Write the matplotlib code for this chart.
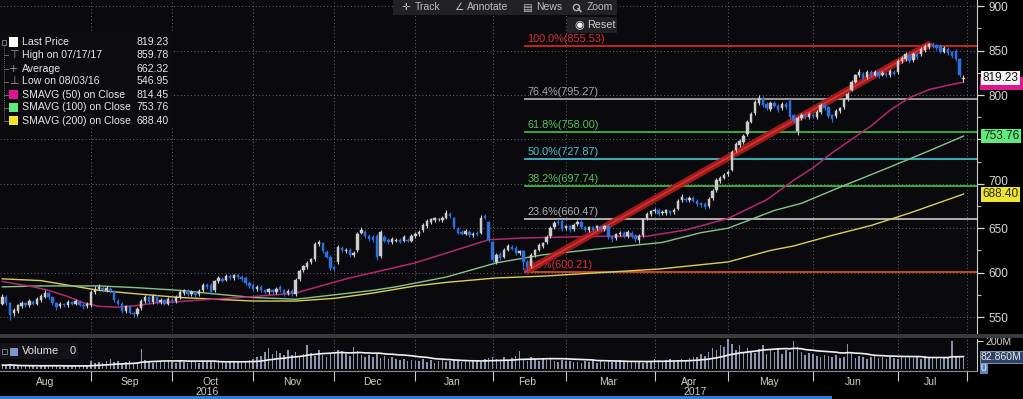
import matplotlib
matplotlib.use('Agg')
import matplotlib.pyplot as plt
import matplotlib.transforms as mtransforms
from matplotlib.patches import Rectangle
import numpy as np
import pandas as pd

W, H = 1023, 399
plt.rcParams['font.family'] = ['Liberation Sans', 'DejaVu Sans']

# trading days (NYSE holidays removed)
holidays = ['2016-09-05', '2016-11-24', '2016-12-26', '2017-01-02', '2017-01-16',
            '2017-02-20', '2017-04-14', '2017-05-29', '2017-07-04']
dates = pd.bdate_range('2016-08-01', '2017-07-27', freq='C', holidays=holidays)

opens = [
    565, 573, 566, 554, 557, 562, 566, 563, 567, 565, 569, 573, 577, 572, 566, 562, 565, 563, 567, 565, 567, 564, 562,
    563, 578, 582, 583, 580, 582, 579, 568, 565, 557, 561, 555, 553, 560, 568, 572, 567, 573, 567, 569, 565,
    569, 568, 572, 577, 579, 576, 577, 576, 580, 586, 586, 580, 590, 593, 592, 596, 594, 597, 595, 594, 588,
    586, 581, 584, 580, 578, 580, 578, 584, 580, 577, 579, 576, 593, 603, 606, 612, 615, 632, 633, 623, 618,
    606, 612, 628, 624, 626, 620, 625, 645, 646, 641, 640, 641, 619, 640, 637, 634, 636, 637, 636, 637, 636,
    641, 643, 648, 652, 657, 659, 660, 659, 662, 666, 662, 649, 646, 644, 646, 642, 645, 645, 664, 657,
    634, 612, 621, 618, 626, 629, 628, 622, 624, 612, 607, 620, 626, 630, 634, 641, 651, 657, 658,
    650, 652, 649, 655, 657, 651, 648, 651, 650, 651, 649, 652, 640, 639, 643, 645, 641, 645, 641, 637, 642, 661, 666,
    669, 671, 667, 667, 669, 668, 672, 682, 683, 682, 684, 681, 678, 677, 675, 684, 693, 703, 707,
    711, 716, 738, 744, 747, 756, 770, 780, 791, 797, 790, 784, 791, 788, 785, 790, 793, 777, 760, 774, 777, 775,
    778, 775, 781, 789, 786, 777, 776, 782, 786, 795, 806, 815, 822, 824, 820, 826, 823, 826, 823, 824, 822, 826,
    826, 838, 840, 845, 839, 846, 846, 851, 854, 857, 856, 855, 849, 852, 848, 850, 840, 818,
]
closes = [
    573, 566, 552, 558, 563, 566, 563, 568, 565, 570, 574, 577, 572, 566, 561, 565, 563, 567, 565, 568, 564, 562, 565,
    578, 582, 584, 580, 583, 579, 569, 565, 557, 562, 555, 553, 559, 568, 573, 567, 574, 567, 569, 565, 570,
    568, 573, 578, 580, 576, 578, 575, 579, 586, 584, 578, 590, 594, 591, 596, 594, 597, 595, 593, 588, 585,
    581, 584, 580, 578, 581, 578, 582, 580, 576, 579, 576, 592, 602, 607, 611, 615, 632, 635, 624, 618, 605,
    604, 629, 625, 626, 620, 622, 644, 648, 641, 638, 637, 618, 646, 636, 634, 638, 637, 635, 640, 636, 641,
    644, 646, 654, 658, 660, 661, 660, 662, 667, 664, 651, 645, 644, 647, 642, 644, 643, 662, 662, 637,
    614, 620, 616, 626, 630, 627, 622, 624, 612, 606, 620, 625, 631, 633, 640, 650, 656, 656, 649,
    652, 648, 654, 657, 651, 648, 651, 648, 652, 649, 652, 640, 638, 643, 645, 641, 646, 641, 638, 641, 660, 666, 669,
    671, 666, 668, 670, 667, 671, 681, 685, 682, 684, 681, 677, 676, 674, 683, 692, 704, 707, 710,
    713, 736, 745, 748, 754, 770, 779, 792, 797, 789, 785, 791, 788, 783, 790, 786, 775, 772, 774, 778, 775, 779,
    776, 781, 789, 785, 776, 773, 782, 785, 795, 801, 815, 822, 826, 819, 826, 822, 826, 821, 825, 822, 827, 824,
    838, 842, 846, 838, 846, 843, 852, 855, 857, 856, 853, 849, 853, 847, 844, 840, 822, 819.23,
]
highs = [
    576, 575, 567, 560, 565, 568, 567, 570, 569, 572, 576, 580, 578, 573, 567, 567, 566, 569, 568, 570, 569, 566, 567,
    580, 585, 587, 585, 585, 584, 580, 570, 567, 564, 563, 557, 561, 570, 575, 574, 576, 575, 571, 570, 572,
    571, 575, 580, 582, 581, 580, 579, 581, 588, 588, 588, 592, 596, 595, 598, 598, 599, 599, 597, 596, 590,
    588, 586, 586, 582, 583, 582, 584, 586, 582, 581, 581, 594, 604, 609, 613, 617, 634, 637, 635, 625, 620,
    608, 631, 630, 628, 628, 624, 646, 651, 648, 643, 642, 643, 648, 642, 639, 640, 639, 639, 642, 639, 643,
    646, 648, 656, 660, 662, 663, 662, 664, 670, 668, 663, 651, 648, 649, 648, 646, 647, 665, 666, 658,
    636, 622, 623, 628, 632, 631, 630, 626, 626, 614, 622, 627, 633, 635, 642, 652, 658, 660, 660,
    654, 654, 656, 659, 659, 653, 653, 653, 654, 653, 654, 654, 642, 645, 647, 647, 648, 647, 643, 643, 662, 668, 671,
    673, 673, 670, 672, 671, 673, 683, 688, 685, 686, 686, 683, 680, 679, 685, 694, 706, 709, 712,
    715, 738, 747, 751, 756, 772, 781, 794, 800, 799, 792, 793, 793, 790, 792, 792, 795, 779, 776, 780, 779, 781,
    780, 783, 791, 791, 788, 779, 784, 787, 797, 803, 817, 824, 829, 826, 828, 828, 828, 828, 827, 826, 829, 828,
    840, 844, 848, 847, 848, 848, 854, 857, 859, 859.78, 858, 857, 855, 854, 850, 852, 842, 823,
]
lows = [
    563, 564, 546.95, 551, 555, 560, 561, 561, 563, 563, 567, 571, 570, 564, 558, 560, 561, 561, 563, 563, 562, 559, 560,
    561, 576, 580, 578, 578, 577, 567, 563, 555, 555, 553, 550, 551, 558, 566, 565, 565, 565, 565, 563, 563,
    566, 566, 570, 575, 574, 574, 573, 574, 578, 582, 576, 578, 588, 589, 590, 592, 592, 593, 591, 586, 583,
    579, 579, 578, 576, 576, 576, 576, 578, 574, 575, 574, 574, 591, 601, 604, 610, 613, 630, 622, 616, 603,
    602, 610, 623, 622, 618, 618, 623, 643, 639, 636, 635, 614, 617, 634, 632, 632, 634, 633, 634, 634, 634,
    639, 641, 646, 650, 655, 657, 658, 657, 660, 662, 649, 643, 642, 642, 640, 640, 641, 643, 660, 635,
    611, 610, 614, 616, 624, 625, 620, 620, 603, 600.21, 605, 618, 624, 628, 632, 639, 649, 654, 647,
    648, 646, 647, 653, 649, 646, 646, 646, 648, 647, 647, 638, 635, 637, 641, 639, 639, 639, 635, 633, 640, 659, 664,
    667, 664, 665, 665, 665, 666, 670, 680, 680, 680, 679, 675, 674, 672, 673, 682, 691, 701, 705,
    709, 714, 736, 742, 745, 754, 768, 778, 789, 787, 783, 782, 786, 781, 783, 784, 773, 768, 755, 772, 773, 773,
    774, 773, 779, 783, 774, 770, 774, 780, 784, 793, 804, 813, 820, 817, 818, 820, 821, 819, 821, 820, 820, 822,
    824, 836, 838, 836, 837, 841, 844, 849, 852, 853, 851, 847, 847, 845, 842, 838, 820, 815,
]
# volume in millions
volumes = [
    30, 28, 35, 25, 22, 20, 24, 26, 22, 19, 25, 28, 30, 22, 20, 18, 24, 26, 21, 23, 25, 28, 32,
    60, 48, 52, 45, 58, 70, 55, 62, 48, 52, 60, 44, 50, 146, 66, 58, 47, 53, 61, 49, 56,
    55, 48, 62, 50, 44, 58, 52, 47, 60, 53, 49, 57, 63, 51, 46, 55, 59, 50, 48, 62, 66,
    70, 85, 96, 120, 150, 110, 130, 115, 98, 140, 105, 125, 92, 108, 172, 118, 95, 135, 102, 88, 112,
    120, 140, 128, 110, 95, 160, 130, 105, 90, 98, 85, 110, 80, 92, 76, 88, 70, 65, 72, 60, 68,
    62, 58, 70, 55, 64, 48, 60, 67, 52, 58, 63, 56, 50, 61, 54, 66, 59, 52, 75, 80,
    90, 72, 68, 85, 60, 78, 95, 130, 66, 58, 88, 70, 62, 75, 68, 82, 60, 55, 64,
    58, 62, 50, 55, 48, 60, 52, 66, 47, 58, 54, 62, 50, 57, 63, 49, 55, 61, 52, 58, 46, 60, 54,
    70, 64, 58, 66, 72, 60, 68, 75, 62, 80, 90, 85, 110, 96, 120, 150, 135, 175, 160,
    215, 180, 140, 175, 125, 150, 130, 118, 145, 170, 108, 135, 125, 150, 112, 140, 120, 200, 160, 120, 98, 115,
    110, 95, 88, 105, 92, 85, 100, 78, 90, 180, 120, 82, 95, 88, 76, 84, 92, 80, 86, 74, 90, 82,
    70, 85, 78, 92, 80, 88, 76, 95, 84, 80, 88, 76, 90, 82, 200, 95, 86, 80,
]

# moving averages (trading-day index, value)
sma50_x = [0, 8, 12, 17, 21, 25, 30, 35, 40, 45, 51, 58, 65, 76, 85, 90, 100, 107, 115, 126, 135, 145, 155,
           167, 177, 188, 198, 205, 210, 215, 220, 225, 230, 235, 240, 245, 249]
sma50_y = [590, 584, 580, 573, 566, 562, 561, 563, 566, 567, 569, 571, 573, 577, 588, 594, 604, 611, 622, 637,
           639, 640, 641, 641, 648, 661, 682, 704, 718, 735, 750, 765, 783, 797, 806, 811, 814.45]
sma100_x = [0, 10, 25, 35, 46, 55, 65, 76, 86, 96, 102, 115, 128, 140, 155, 171, 181, 188, 200, 207, 218,
            230, 240, 249]
sma100_y = [584, 585, 585, 583, 580, 576, 572, 570, 575, 580, 584, 595, 611, 620, 627, 634, 645, 650, 670,
            678, 698, 719, 737, 753.76]
sma200_x = [0, 10, 25, 35, 46, 55, 65, 76, 86, 96, 107, 115, 128, 140, 155, 170, 188, 199, 205, 215, 225,
            235, 249]
sma200_y = [593, 591, 580, 576, 572, 570, 568, 568, 571, 577, 585, 589, 594, 596, 600, 604, 612, 625, 630,
            642, 653, 667, 688.40]

fib_pcts = ['100.0%', '76.4%', '61.8%', '50.0%', '38.2%', '23.6%', '0.0%']
fib_vals = [855.53, 795.27, 758.00, 727.87, 697.74, 660.47, 600.21]
fib_cols = ['#d42424', '#a6a6a6', '#3fb63f', '#3ebcc4', '#3fb63f', '#bdbdbd', '#e0461c']
fib_txt = ['#d93434', '#a8a8a8', '#56c456', '#4cc4d4', '#56c456', '#b0b0b0', '#d93434']
fib_start = 136
trend_x = [135.5, 240.5]
trend_y = [601, 858]

legend_labels = ['Last Price', 'High on 07/17/17', 'Average', 'Low on 08/03/16',
                 'SMAVG (50) on Close', 'SMAVG (100) on Close', 'SMAVG (200) on Close']
legend_values = ['819.23', '859.78', '662.32', '546.95', '814.45', '753.76', '688.40']

BG = '#0a0a0e'
TXT = '#cfcfcf'
UP = '#cdcdcd'
DN = '#2f6fdc'
C50, C100, C200 = '#b3286f', '#86c488', '#d8d05a'


def fx(px):
    return px / W


def fy(py):
    return 1 - py / H


fig = plt.figure(figsize=(W / 100, H / 100), dpi=100, facecolor='black')
ax = fig.add_axes([0, fy(333), fx(977), 333 / H], facecolor=BG)
axv = fig.add_axes([0, fy(371), fx(977), 32 / H], facecolor=BG, sharex=ax)

x = np.arange(len(dates))
o, h, l, c = (np.array(a, dtype=float) for a in (opens, highs, lows, closes))
up = c >= o

# month boundaries
starts = [i for i in range(1, len(dates)) if dates[i].month != dates[i - 1].month]
bounds = starts + [len(dates)]
edges = [0] + bounds
centers = [(a + b - 1) / 2 for a, b in zip(edges[:-1], edges[1:])]
mlabels = [dates[a].strftime('%b') for a in edges[:-1]]

x0, x1 = -0.6, 252.5
for a in (ax, axv):
    a.set_xlim(x0, x1)
    for b in bounds:
        a.axvline(b, color='#6a6a6a', lw=0.7, ls=(0, (1, 2.5)), zorder=0.5)
    for s in ('top', 'left'):
        a.spines[s].set_visible(False)
    a.spines['right'].set_color('#d0d0d0')
    a.spines['bottom'].set_color('#8a8a8a')

# price panel
ax.set_ylim(532, 907)
for v in range(550, 901, 50):
    ax.axhline(v, color='#6a6a6a', lw=0.7, ls=(0, (1, 2.5)), zorder=0.5)

for pct, val, lc, tc in zip(fib_pcts, fib_vals, fib_cols, fib_txt):
    ax.plot([fib_start - 0.5, x1], [val, val], color=lc, lw=1.3, zorder=1)
    ax.text(fib_start, val + 2.2, f'{pct}({val:.2f})', color=tc, fontsize=7.8, va='bottom', ha='left', zorder=1.5)

ax.plot(sma200_x, sma200_y, color=C200, lw=1.0, zorder=2)
ax.plot(sma100_x, sma100_y, color=C100, lw=1.0, zorder=2)
ax.plot(sma50_x, sma50_y, color=C50, lw=1.1, zorder=2)
ax.plot(trend_x, trend_y, color='#b31b1b', lw=5, alpha=0.9, solid_capstyle='butt', zorder=2.5)
ax.plot(trend_x, trend_y, color='#e23a3a', lw=1.2, alpha=0.8, zorder=2.6)

cols = [UP if u else DN for u in up]
ax.vlines(x, l, h, colors=cols, lw=0.8, zorder=3)
ax.bar(x, np.maximum(np.abs(c - o), 0.9), bottom=np.minimum(o, c), width=0.62,
       color=cols, edgecolor=cols, lw=0.3, zorder=4)

ax.yaxis.tick_right()
yt = list(range(550, 901, 50))
ax.set_yticks(yt)
ax.set_yticklabels(['' if v == 750 else str(v) for v in yt])
ax.set_yticks(range(550, 901, 25), minor=True)
ax.tick_params(axis='y', which='major', colors='#d8d8d8', length=5, width=0.9, labelsize=8.5, pad=3)
ax.tick_params(axis='y', which='minor', colors='#bdbdbd', length=3, width=0.8)
ax.tick_params(axis='x', which='both', length=0, labelbottom=False)
ax.spines['bottom'].set_visible(False)
# the 700 label peeks out just above the SMA(200) tag
for lab in ax.get_yticklabels():
    if lab.get_text() == '700':
        lab.set_transform(lab.get_transform() + mtransforms.ScaledTranslation(0, 3 / 100, fig.dpi_scale_trans))

blend = mtransforms.blended_transform_factory(ax.transAxes, ax.transData)


def tag(a, tr, y, txt, fc, tc):
    a.text(1.006, y, txt, transform=tr, ha='left', va='center', fontsize=8.5, color=tc, clip_on=False,
           zorder=10, bbox=dict(boxstyle='square,pad=0.12', fc=fc, ec='none'))


# SMA(50) tag sits mostly hidden under the last-price tag
ax.add_patch(Rectangle((1.003, 806), 0.046, 14, transform=blend, fc='#e0168c', ec='none',
                       clip_on=False, zorder=9))
tag(ax, blend, 819.23, '819.23', '#f4f4f4', '#111111')
tag(ax, blend, 753.76, '753.76', '#63e87c', '#0d2a12')
tag(ax, blend, 688.40, '688.40', '#efe52e', '#2a2600')

# volume panel
vol = np.array(volumes, dtype=float)
vol_ma = pd.Series(vol).rolling(20, min_periods=1).mean()
axv.set_ylim(-12, 215)
axv.bar(x, vol, width=0.4, color='#8d93aa', zorder=2)
axv.plot(x, vol_ma, color='#f0f0f0', lw=1.2, zorder=3)
axv.set_yticks([200])
axv.yaxis.tick_right()
axv.tick_params(axis='y', colors='#d8d8d8', length=4, labelsize=7.5, pad=2)
axv.set_yticklabels(['200M'])
vblend = mtransforms.blended_transform_factory(axv.transAxes, axv.transData)
axv.text(1.004, 88, '82.860M', transform=vblend, ha='left', va='center', fontsize=7.5, color='#e8e8e8',
         clip_on=False, zorder=10, bbox=dict(boxstyle='square,pad=0.12', fc='#2d4466', ec='#8aa6c8', lw=0.6))
axv.text(1.004, 12, '0', transform=vblend, ha='left', va='center', fontsize=7.5, color='#e8e8e8',
         clip_on=False, zorder=9, bbox=dict(boxstyle='square,pad=0.12', fc='#5f86bb', ec='none'))

axv.set_xticks(centers)
axv.set_xticklabels(mlabels)
axv.set_xticks(bounds, minor=True)
axv.tick_params(axis='x', which='major', length=0, colors=TXT, labelsize=7.5, pad=4)
axv.tick_params(axis='x', which='minor', length=7, width=0.8, colors='#cfcfcf')

xblend = mtransforms.blended_transform_factory(axv.transData, fig.transFigure)
for yr in (2016, 2017):
    idx = [i for i, d in enumerate(dates) if d.year == yr]
    lo = max(idx[0] - 0.5, x0)
    hi = min(idx[-1] + 0.5, x1) if yr == 2016 else x1
    axv.text((lo + hi) / 2, fy(392), str(yr), transform=xblend, ha='center', va='center',
             fontsize=7.5, color=TXT, clip_on=False)

# panel separator, scrollbar
fig.patches.append(Rectangle((0, fy(338)), 1, 4.5 / H, transform=fig.transFigure, fc='#3b3b3b', ec='none'))
fig.patches.append(Rectangle((0, fy(399)), fx(832), 3 / H, transform=fig.transFigure, fc='#2f7fd0', ec='none'))

# toolbar
fig.patches.append(Rectangle((fx(393), fy(15)), fx(224), 15 / H, transform=fig.transFigure,
                             fc='#222226', ec='none'))
fig.patches.append(Rectangle((fx(567), fy(33)), fx(50), 16 / H, transform=fig.transFigure,
                             fc='#222226', ec='none'))
for px, t in [(401, '\u271b'), (415, 'Track'), (454, '\u2220'), (467, 'Annotate'),
              (522, '\u25a4'), (536, 'News'), (587, 'Zoom')]:
    fig.text(fx(px), fy(7.5), t, fontsize=7.5, color='#bdbdbd', va='center', ha='left',
             family=['Liberation Sans', 'DejaVu Sans'])
# magnifier icon drawn as a shape
fig.lines.append(plt.Line2D([fx(576)], [fy(6.5)], transform=fig.transFigure, marker='o', ms=4.5,
                            mfc='none', mec='#bdbdbd', mew=0.9, ls='none'))
fig.lines.append(plt.Line2D([fx(578), fx(581)], [fy(8.5), fy(11.5)], transform=fig.transFigure,
                            color='#bdbdbd', lw=1.1))
fig.text(fx(574), fy(25), '\u25c9', fontsize=8, color='#f0f0f0', va='center', ha='left',
         family=['DejaVu Sans'])
fig.text(fx(587), fy(25), 'Reset', fontsize=7.8, color='#d0d0d0', va='center', ha='left')

# legend block
fig.patches.append(Rectangle((0, fy(128)), fx(173), 95 / H, transform=fig.transFigure,
                             fc='#0c0c10', ec='none'))
rows_y = [42, 55, 68.5, 81.5, 94.5, 107.5, 120.5]
fig.lines.append(plt.Line2D([fx(4), fx(4)], [fy(45), fy(120.5)], transform=fig.transFigure,
                            color='#6a6a6a', lw=0.7, ls=(0, (1, 1))))
fig.patches.append(Rectangle((fx(1.5), fy(44.5)), fx(5), 5 / H, transform=fig.transFigure,
                             fc='none', ec='#8a8a8a', lw=0.6))
sq_cols = ['#ffffff', None, None, None, '#e0168c', '#63e87c', '#efe52e']
marks = [None, '\u22a4', '+', '\u22a5', None, None, None]
for ry, lab, val, sc, mk in zip(rows_y, legend_labels, legend_values, sq_cols, marks):
    if ry > 50:
        fig.lines.append(plt.Line2D([fx(4), fx(8)], [fy(ry), fy(ry)], transform=fig.transFigure,
                                    color='#6a6a6a', lw=0.7))
    if sc:
        fig.patches.append(Rectangle((fx(9), fy(ry + 4.5)), fx(9), 9 / H, transform=fig.transFigure,
                                     fc=sc, ec='none'))
    else:
        fig.text(fx(13.5), fy(ry), mk, fontsize=8, color='#9a9a9a', ha='center', va='center',
                 family=['DejaVu Sans'])
    fig.text(fx(22), fy(ry), lab, fontsize=7.6, color='#e6e6e6', va='center', ha='left')
    fig.text(fx(169), fy(ry), val, fontsize=7.6, color='#e6e6e6', va='center', ha='right')

# volume legend
fig.patches.append(Rectangle((0, fy(359)), fx(78), 16 / H, transform=fig.transFigure,
                             fc='#141418', ec='none'))
fig.patches.append(Rectangle((fx(2), fy(354)), fx(5), 5 / H, transform=fig.transFigure,
                             fc='none', ec='#8a8a8a', lw=0.6))
fig.patches.append(Rectangle((fx(10), fy(356)), fx(8), 8 / H, transform=fig.transFigure,
                             fc='#7f97c8', ec='none'))
fig.text(fx(22), fy(351.5), 'Volume', fontsize=8, color='#e0e0e0', va='center', ha='left')
fig.text(fx(70), fy(351.5), '0', fontsize=8, color='#e0e0e0', va='center', ha='left')

fig.savefig('out.png', dpi=100, facecolor='black')
